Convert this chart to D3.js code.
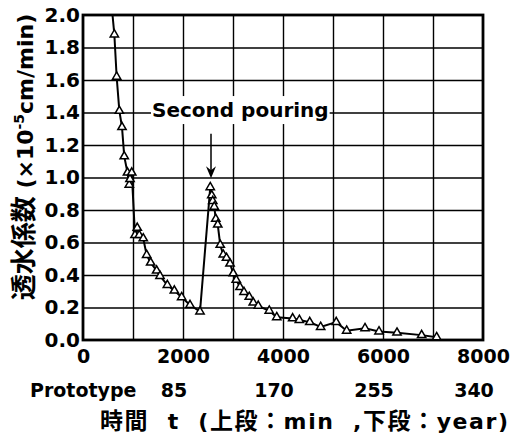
<!DOCTYPE html>
<html>
<head>
<meta charset="utf-8">
<script src="https://cdn.jsdelivr.net/npm/d3@7"></script>
<style>
  body { margin: 0; background: #fff; }
  svg { display: block; }
  .lat { font-family: "DejaVu Sans", sans-serif; font-weight: bold; }
  .cjk { font-family: "Noto Sans CJK JP", sans-serif; font-weight: bold; }
</style>
</head>
<body>
<svg id="chart" width="519" height="439"></svg>
<script>
// Elapsed time (min) and coefficient of permeability (x10^-5 cm/min)
const timeMin = [
  575, 627, 673, 727, 780, 825, 890, 925, 940, 975,
  1040, 1085, 1125, 1205, 1273, 1353, 1473, 1540, 1687, 1827,
  1973, 2140, 2340,
  2545, 2575, 2595, 2625, 2655, 2695, 2745, 2805, 2870, 2940,
  3005, 3065, 3140, 3220, 3325, 3405, 3505, 3725, 3875, 4193,
  4327, 4535, 4753, 5065, 5273, 5640, 5920, 6280, 6773, 7073
];
const permeability = [
  2.05, 1.88, 1.62, 1.41, 1.31, 1.13, 1.03, 0.955, 0.99, 1.03,
  0.645, 0.69, 0.645, 0.625, 0.523, 0.476, 0.427, 0.394, 0.338, 0.304,
  0.263, 0.215, 0.175,
  0.94, 0.89, 0.855, 0.82, 0.745, 0.71, 0.585, 0.525, 0.505, 0.47,
  0.41, 0.37, 0.325, 0.295, 0.265, 0.23, 0.21, 0.18, 0.14, 0.133,
  0.123, 0.11, 0.08, 0.11, 0.057, 0.072, 0.052, 0.045, 0.03, 0.017
];

const xTicks = [0, 2000, 4000, 6000, 8000];
const xGrid = [1000, 2000, 3000, 4000, 5000, 6000, 7000];
const yTicks = [0, 0.2, 0.4, 0.6, 0.8, 1.0, 1.2, 1.4, 1.6, 1.8, 2.0];
const prototypeAt = [2000, 4000, 6000, 8000];
const prototypeYears = ["85", "170", "255", "340"];

// "Second pouring" annotation (data coordinates)
const noteText = "Second pouring";
const noteT = 1380, noteK = 1.372;
const arrowT = 2560;
const arrowK = [1.27, 0.995];

const svg = d3.select("#chart");
const plotL = 83, plotR = 483, plotT = 15, plotB = 340;

const x = d3.scaleLinear().domain([0, 8000]).range([plotL, plotR]);
const y = d3.scaleLinear().domain([0, 2]).range([plotB, plotT]);

// grid
svg.append("g")
  .attr("transform", `translate(0,${plotB})`)
  .call(d3.axisBottom(x).tickValues(xGrid).tickSize(-(plotB - plotT)).tickFormat(""))
  .call(g => g.select(".domain").remove())
  .call(g => g.selectAll("line").attr("stroke", "#000").attr("stroke-width", 1.4));
svg.append("g")
  .attr("transform", `translate(${plotL},0)`)
  .call(d3.axisLeft(y).tickValues(yTicks.slice(1, -1)).tickSize(-(plotR - plotL)).tickFormat(""))
  .call(g => g.select(".domain").remove())
  .call(g => g.selectAll("line").attr("stroke", "#000").attr("stroke-width", 1.4));

// annotation label with white backing over the grid
const note = svg.append("g");
const noteLabel = note.append("text")
  .attr("class", "lat")
  .attr("x", x(noteT))
  .attr("y", y(noteK))
  .attr("font-size", 20)
  .attr("fill", "#000")
  .text(noteText);
const bb = noteLabel.node().getBBox();
note.insert("rect", "text")
  .attr("x", bb.x - 1).attr("y", bb.y - 2)
  .attr("width", bb.width + 2).attr("height", bb.height + 4)
  .attr("fill", "#fff");

// arrow to the peak after the second pouring
const ax = x(arrowT), ay0 = y(arrowK[0]), ay1 = y(arrowK[1]);
svg.append("line")
  .attr("x1", ax).attr("x2", ax).attr("y1", ay0).attr("y2", ay1 - 6)
  .attr("stroke", "#000").attr("stroke-width", 1.5);
svg.append("path")
  .attr("d", `M${ax},${ay1} L${ax - 5},${ay1 - 12} L${ax},${ay1 - 8} L${ax + 5},${ay1 - 12} Z`)
  .attr("fill", "#000");

// frame
svg.append("rect")
  .attr("x", plotL).attr("y", plotT)
  .attr("width", plotR - plotL).attr("height", plotB - plotT)
  .attr("fill", "none").attr("stroke", "#000").attr("stroke-width", 2.8);

// data
svg.append("clipPath").attr("id", "plotClip")
  .append("rect").attr("x", plotL).attr("y", plotT)
  .attr("width", plotR - plotL).attr("height", plotB - plotT);

const pts = timeMin.map((t, i) => [t, permeability[i]]);
const plot = svg.append("g").attr("clip-path", "url(#plotClip)");
plot.append("path")
  .datum(pts)
  .attr("fill", "none").attr("stroke", "#000").attr("stroke-width", 2)
  .attr("d", d3.line().x(d => x(d[0])).y(d => y(d[1])));
plot.selectAll(".pt")
  .data(pts)
  .join("path")
  .attr("class", "pt")
  .attr("transform", d => `translate(${x(d[0])},${y(d[1])})`)
  .attr("d", d3.symbol(d3.symbolTriangle, 30))
  .attr("fill", "#fff").attr("stroke", "#000").attr("stroke-width", 1.5);

// tick labels
svg.append("g")
  .attr("transform", `translate(0,${plotB})`)
  .call(d3.axisBottom(x).tickValues(xTicks).tickSize(0).tickPadding(10).tickFormat(d3.format("d")))
  .call(g => g.select(".domain").remove())
  .call(g => g.selectAll("text").attr("class", "lat").attr("font-size", 19).attr("fill", "#000"));
svg.append("g")
  .attr("transform", `translate(${plotL},0)`)
  .call(d3.axisLeft(y).tickValues(yTicks).tickSize(0).tickPadding(3).tickFormat(d3.format(".1f")))
  .call(g => g.select(".domain").remove())
  .call(g => g.selectAll("text").attr("class", "lat").attr("font-size", 20).attr("fill", "#000"));

// prototype scale row
svg.append("text").attr("class", "lat")
  .attr("x", 30).attr("y", 397).attr("font-size", 19)
  .text("Prototype");
svg.append("g").selectAll("text")
  .data(prototypeAt)
  .join("text")
  .attr("class", "lat")
  .attr("x", d => x(d) - 9).attr("y", 397)
  .attr("text-anchor", "middle").attr("font-size", 19)
  .text((d, i) => prototypeYears[i]);

// x-axis title
const xt = svg.append("text")
  .attr("x", 100).attr("y", 429)
  .attr("textLength", 408).attr("lengthAdjust", "spacing")
  .attr("xml:space", "preserve");
xt.append("tspan").attr("class", "cjk").attr("font-size", 23).text("時間");
xt.append("tspan").attr("class", "lat").attr("font-size", 22).text("  t  (");
xt.append("tspan").attr("class", "cjk").attr("font-size", 23).text("上段：");
xt.append("tspan").attr("class", "lat").attr("font-size", 22).text("min  ,");
xt.append("tspan").attr("class", "cjk").attr("font-size", 23).text("下段：");
xt.append("tspan").attr("class", "lat").attr("font-size", 22).text("year)");

// y-axis title
const yt = svg.append("text")
  .attr("transform", "translate(33,157) rotate(-90)")
  .attr("text-anchor", "middle")
  .attr("xml:space", "preserve");
yt.append("tspan").attr("class", "cjk").attr("font-size", 26).text("透水係数");
yt.append("tspan").attr("class", "lat").attr("font-size", 22).text(" (×10");
yt.append("tspan").attr("class", "lat").attr("font-size", 14).attr("dy", -9).text("-5");
yt.append("tspan").attr("class", "lat").attr("font-size", 22).attr("dy", 9).text("cm/min)");
</script>
</body>
</html>
